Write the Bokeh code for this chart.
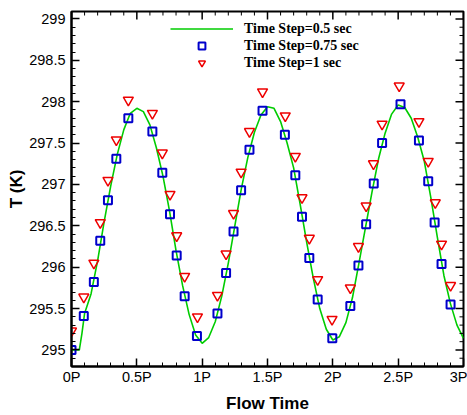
import math
from bokeh.plotting import figure
from bokeh.models import Range1d, FixedTicker, Legend, LegendItem
from bokeh.embed import file_html
from bokeh.resources import INLINE

# Time Step = 0.5 sec (continuous line)
line_x = [0.0, 0.06, 0.08, 0.1, 0.15, 0.2, 0.25, 0.3, 0.35, 0.4, 0.45, 0.5, 0.55, 0.6,
          0.65, 0.7, 0.75, 0.8, 0.85, 0.9, 0.95, 1.0, 1.05, 1.1, 1.15, 1.2, 1.25, 1.3,
          1.35, 1.4, 1.45, 1.5, 1.55, 1.6, 1.65, 1.7, 1.75, 1.8, 1.85, 1.9, 1.95, 2.0,
          2.05, 2.1, 2.15, 2.2, 2.25, 2.3, 2.35, 2.4, 2.45, 2.5, 2.55, 2.6, 2.65, 2.7,
          2.75, 2.8, 2.85, 2.9, 2.95, 3.0]
line_t = [295.00, 295.00, 295.20, 295.44, 295.68, 296.08, 296.55, 296.98, 297.36, 297.66,
          297.86, 297.92, 297.88, 297.72, 297.44, 297.10, 296.68, 296.20, 295.78, 295.43,
          295.18, 295.08, 295.15, 295.34, 295.65, 296.05, 296.50, 296.95, 297.33, 297.63,
          297.84, 297.94, 297.92, 297.76, 297.50, 297.20, 296.76, 296.30, 295.87, 295.50,
          295.25, 295.12, 295.16, 295.33, 295.63, 296.05, 296.48, 296.91, 297.31, 297.62,
          297.85, 297.96, 297.93, 297.80, 297.57, 297.28, 296.84, 296.36, 295.90, 295.56,
          295.30, 295.14]

# Time Step = 0.75 sec (squares)
sq_x = [0.0, 0.094, 0.171, 0.22, 0.279, 0.343, 0.435, 0.619, 0.695, 0.754, 0.805, 0.866,
        0.96, 1.117, 1.183, 1.24, 1.298, 1.362, 1.462, 1.633, 1.713, 1.764, 1.82, 1.884,
        1.996, 2.134, 2.196, 2.255, 2.313, 2.377, 2.518, 2.659, 2.73, 2.779, 2.832, 2.901]
sq_t = [295.00, 295.41, 295.82, 296.32, 296.81, 297.31, 297.80, 297.64, 297.14, 296.64,
        296.14, 295.65, 295.17, 295.44, 295.93, 296.43, 296.93, 297.42, 297.89, 297.60,
        297.11, 296.61, 296.11, 295.61, 295.14, 295.53, 296.02, 296.52, 297.01, 297.50,
        297.97, 297.53, 297.04, 296.54, 296.04, 295.55]

# Time Step = 1 sec (triangles)
tri_x = [0.0, 0.094, 0.171, 0.22, 0.279, 0.343, 0.435, 0.619, 0.695, 0.754, 0.805, 0.866,
         0.964, 1.117, 1.183, 1.24, 1.298, 1.362, 1.462, 1.636, 1.713, 1.764, 1.82, 1.884,
         1.994, 2.134, 2.196, 2.255, 2.311, 2.377, 2.508, 2.659, 2.73, 2.784, 2.832, 2.901]
tri_t = [295.23, 295.64, 296.05, 296.54, 297.05, 297.54, 298.02, 297.86, 297.38, 296.88,
         296.38, 295.89, 295.40, 295.66, 296.16, 296.65, 297.15, 297.64, 298.12, 297.83,
         297.34, 296.84, 296.35, 295.85, 295.37, 295.75, 296.25, 296.74, 297.25, 297.73,
         298.19, 297.76, 297.28, 296.78, 296.28, 295.78]

series_labels = ["Time Step=0.5 sec", "Time Step=0.75 sec", "Time Step=1 sec"]

x_ticks = [0, 0.5, 1, 1.5, 2, 2.5, 3]
x_tick_labels = ["0P", "0.5P", "1P", "1.5P", "2P", "2.5P", "3P"]
x_minor = [round(i * 0.1, 1) for i in range(31)]
y_ticks = [295, 295.5, 296, 296.5, 297, 297.5, 298, 298.5, 299]
y_tick_labels = ["295", "295.5", "296", "296.5", "297", "297.5", "298", "298.5", "299"]
y_minor = [round(294.8 + i * 0.1, 1) for i in range(43)]

x0, x1 = 0, 3
y0, y1 = 294.8, 299.09

p = figure(width=467, height=415, output_backend="svg", toolbar_location=None,
           x_range=Range1d(x0, x1), y_range=Range1d(y0, y1),
           min_border_left=71, min_border_right=4, min_border_top=11, min_border_bottom=46)
p.background_fill_color = "white"
p.border_fill_color = "white"
p.outline_line_color = "black"
p.outline_line_width = 2
p.xgrid.visible = False
p.ygrid.visible = False

green = p.line(line_x, line_t, line_color="#00cc00", line_width=1.6)
blue = p.scatter(sq_x, sq_t, marker="square", size=8, fill_color=None,
                 line_color="#0000cc", line_width=2)
red = p.scatter(tri_x, tri_t, marker="inverted_triangle", size=10, fill_color=None,
                line_color="#ee0000", line_width=1.5)

# mirrored inward ticks on the top and right frame edges (clipped to the frame)
top_minor = [v for v in x_minor if v not in x_ticks]
right_minor = [v for v in y_minor if v not in y_ticks]
p.scatter(x_ticks, [y1] * len(x_ticks), marker="dash", size=16, angle=math.pi / 2,
          line_color="black", line_width=1.5)
p.scatter(top_minor, [y1] * len(top_minor), marker="dash", size=8, angle=math.pi / 2,
          line_color="black", line_width=1)
p.scatter([x1] * len(y_ticks), y_ticks, marker="dash", size=16,
          line_color="black", line_width=1.5)
p.scatter([x1] * len(right_minor), right_minor, marker="dash", size=8,
          line_color="black", line_width=1)

def style(ax):
    ax.axis_line_color = "black"
    ax.axis_line_width = 2
    ax.major_tick_in = 8
    ax.major_tick_out = 0
    ax.minor_tick_in = 4
    ax.minor_tick_out = 0
    ax.major_tick_line_width = 1.5
    ax.minor_tick_line_width = 1
    ax.major_tick_line_color = "black"
    ax.minor_tick_line_color = "black"
    ax.major_label_text_font = "Liberation Sans"
    ax.major_label_text_font_size = "14.5px"
    ax.major_label_text_color = "black"
    ax.axis_label_text_font = "Liberation Sans"
    ax.axis_label_text_font_style = "bold"
    ax.axis_label_text_font_size = "17px"
    ax.axis_label_text_color = "black"

xa = p.xaxis[0]
xa.ticker = FixedTicker(ticks=x_ticks, minor_ticks=x_minor)
xa.major_label_overrides = dict(zip(x_ticks, x_tick_labels))
xa.axis_label = "Flow Time"
style(xa)
xa.major_label_standoff = 2
xa.axis_label_standoff = 6

ya = p.yaxis[0]
ya.ticker = FixedTicker(ticks=y_ticks, minor_ticks=y_minor)
ya.major_label_overrides = dict(zip(y_ticks, y_tick_labels))
ya.axis_label = "T (K)"
style(ya)
ya.major_label_standoff = 6
ya.axis_label_standoff = 0

legend = Legend(items=[LegendItem(label=series_labels[0], renderers=[green]),
                       LegendItem(label=series_labels[1], renderers=[blue]),
                       LegendItem(label=series_labels[2], renderers=[red])],
                location=(99, 295), orientation="vertical")
legend.border_line_color = None
legend.background_fill_alpha = 0
legend.padding = 0
legend.margin = 0
legend.spacing = 0
legend.glyph_width = 63
legend.glyph_height = 17
legend.label_height = 17
legend.label_standoff = 11
legend.label_text_font = "Liberation Serif"
legend.label_text_font_style = "bold"
legend.label_text_font_size = "14px"
legend.label_text_color = "black"
p.add_layout(legend, "center")

open("out.html", "w").write(file_html(p, INLINE))
